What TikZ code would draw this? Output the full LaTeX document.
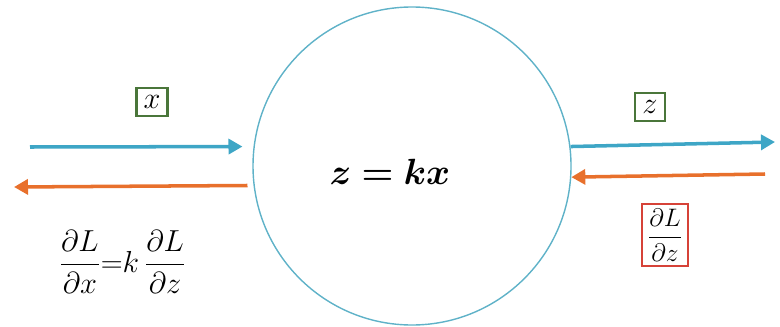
\documentclass[tikz,border=0pt]{standalone}
\usepackage{amsmath,bm}
\usetikzlibrary{arrows.meta}
\definecolor{fwdblue}{RGB}{62,166,198}
\definecolor{bwdorange}{RGB}{232,112,44}
\definecolor{circblue}{RGB}{95,178,200}
\definecolor{boxgreen}{RGB}{74,118,58}
\definecolor{boxred}{RGB}{214,66,56}
\begin{document}
\begin{tikzpicture}[>={Triangle[length=0.28cm,width=0.3cm]}]
  \useasboundingbox (0,0) rectangle (15.6,6.52);
  \tikzset{
    fwd/.style={->, line width=2pt, fwdblue},
    bwd/.style={->, line width=2pt, bwdorange},
    varbox/.style={draw=boxgreen, line width=1.2pt, inner sep=4pt, font=\LARGE},
    gradbox/.style={draw=boxred, line width=1.2pt, inner sep=3pt, font=\Large}
  }

  % --- the gate ---
  \node[circle, draw=circblue, line width=0.8pt, minimum size=6.36cm] (gate) at (8.24,3.2) {};
  \node (rule) at (7.8,3.08) {\huge$\bm{z=kx}$};

  % --- free ends of the arrows ---
  \coordinate (xin)  at (0.6,3.58);
  \coordinate (dxout) at (0.28,2.78);
  \coordinate (zout) at (15.5,3.68);
  \coordinate (dzin) at (15.3,3.04);

  % forward pass (left, right)
  \draw[fwd, shorten >=0.22cm] (xin) -- (gate.173.1);
  \draw[fwd] (gate.7.2) -- (zout);

  % backward pass
  \draw[bwd] (dzin) -- (gate.-4.3);
  \draw[bwd, shorten <=0.12cm] (gate.187.5) -- (dxout);

  % --- labels ---
  \node[varbox] (xlab) at (3.04,4.48) {$x$};
  \node[varbox] (zlab) at (13.0,4.38) {$z$};
  \node[gradbox] (dzlab) at (13.3,1.82) {$\dfrac{\partial L}{\partial z}$};
  \node (dxlab) at (2.45,1.28) {\LARGE$\dfrac{\partial L}{\partial x}{=}k\,\dfrac{\partial L}{\partial z}$};

\end{tikzpicture}
\end{document}
